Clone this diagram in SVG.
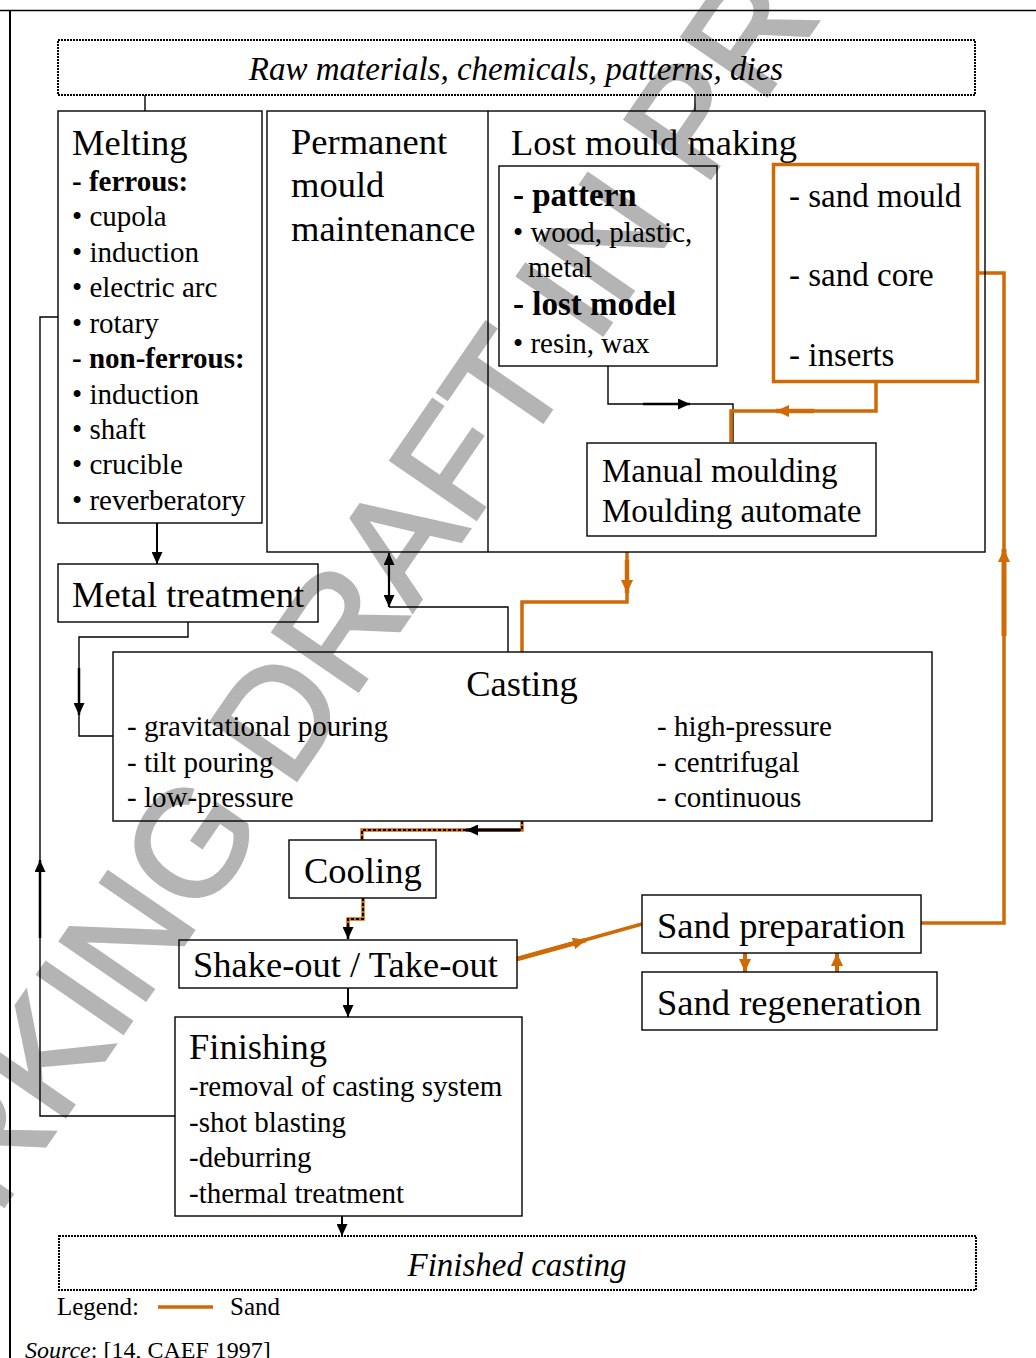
<svg xmlns="http://www.w3.org/2000/svg" width="1036" height="1358" viewBox="0 0 1036 1358">
  <style>
    .box { fill: none; stroke: #000; stroke-width: 1.4; }
    .dot { fill: none; stroke: #000; stroke-width: 2; stroke-dasharray: 2 1; }
    .sand { fill: none; stroke: #cf6a06; stroke-width: 3.5; }
    .ln { fill: none; stroke: #000; stroke-width: 1.4; }
    .t { font-family: "Liberation Serif", "Times New Roman", serif; fill: #000; }
    .h { font-size: 36.5px; }
    .m { font-size: 33px; }
    .s { font-size: 29px; }
    .b { font-weight: bold; }
    .i { font-style: italic; }
    .wm { font-family: "Liberation Sans", Arial, sans-serif; font-size: 150px; fill: #b4b4b4; stroke: #b4b4b4; stroke-width: 3.5; }
  </style>
  <defs>
    <marker id="ah" markerUnits="userSpaceOnUse" markerWidth="12" markerHeight="11" refX="12" refY="5.5" orient="auto">
      <path d="M0,0 L12,5.5 L0,11 z" fill="#000"/>
    </marker>
    <marker id="ahs" markerUnits="userSpaceOnUse" markerWidth="12" markerHeight="11" refX="0" refY="5.5" orient="auto">
      <path d="M12,0 L0,5.5 L12,11 z" fill="#000"/>
    </marker>
    <marker id="oh" markerUnits="userSpaceOnUse" markerWidth="13" markerHeight="12" refX="13" refY="6" orient="auto">
      <path d="M0,0 L13,6 L0,12 z" fill="#cf6a06"/>
    </marker>
  </defs>

  <rect width="1036" height="1358" fill="#fff"/>

  <!-- watermark -->
  <text class="wm" text-anchor="middle" transform="translate(518,458) rotate(-55.5)">WORKING DRAFT IN PROGRESS</text>

  <!-- page frame -->
  <g id="frame">
    <line x1="0" y1="10.5" x2="1036" y2="10.5" stroke="#000" stroke-width="1.5"/>
    <line x1="10" y1="10" x2="10" y2="1358" stroke="#000" stroke-width="2"/>
  </g>

  <g id="connectors">
    <line class="ln" x1="145" y1="95" x2="145" y2="111"/>
    <line class="ln" x1="695" y1="95" x2="695" y2="111"/>

    <!-- pattern to moulding -->
    <polyline class="ln" points="608,366 608,404 733,404 733,442"/>
    <line x1="643" y1="404" x2="690" y2="404" stroke="#000" stroke-width="2.5" marker-end="url(#ah)"/>

    <!-- sand mould/core to moulding -->
    <polyline class="sand" stroke-width="4" points="876,382 876,411 731,411 731,442"/>
    <line x1="814" y1="411" x2="776" y2="411" stroke="#cf6a06" stroke-width="4.5" marker-end="url(#oh)"/>

    <!-- sand preparation back to mould making -->
    <polyline class="sand" points="978,273 1004,273 1004,923 921,923"/>
    <line x1="1004" y1="636" x2="1004" y2="549" stroke="#cf6a06" stroke-width="5" marker-end="url(#oh)"/>

    <!-- melting to metal treatment -->
    <line x1="157" y1="523" x2="157" y2="564" stroke="#000" stroke-width="2" marker-end="url(#ah)"/>

    <!-- metal treatment to casting -->
    <polyline class="ln" points="188,622 188,637 79,637 79,736 113,736"/>
    <line x1="79" y1="668" x2="79" y2="715" stroke="#000" stroke-width="2.5" marker-end="url(#ah)"/>

    <!-- permanent mould to casting (two-way) -->
    <line x1="389" y1="553" x2="389" y2="607" stroke="#000" stroke-width="2.2" marker-start="url(#ahs)" marker-end="url(#ah)"/>
    <polyline class="ln" points="389,607 508,607 508,652"/>

    <!-- moulds to casting -->
    <polyline class="sand" stroke-width="4" points="627,552 627,602 522,602 522,652"/>
    <line x1="627" y1="560" x2="627" y2="593" stroke="#cf6a06" stroke-width="4.5" marker-end="url(#oh)"/>

    <!-- casting to cooling -->
    <polyline class="sand" stroke-width="4" points="522,821 522,830 362,830 362,840"/>
    <polyline fill="none" stroke="#000" stroke-width="2" stroke-dasharray="3 2" points="522,821 522,830 362,830 362,840"/>
    <line x1="520" y1="830" x2="466" y2="830" stroke="#000" stroke-width="3" marker-end="url(#ah)"/>

    <!-- cooling to shake-out -->
    <polyline class="sand" stroke-width="4" points="363,898 363,919 348,919 348,928"/>
    <polyline fill="none" stroke="#000" stroke-width="2" stroke-dasharray="3 2" points="363,898 363,919 348,919 348,928"/>
    <line x1="348" y1="925" x2="348" y2="939" stroke="#000" stroke-width="2.5" marker-end="url(#ah)"/>

    <!-- shake-out to sand preparation -->
    <line class="sand" x1="517" y1="959" x2="642" y2="924"/>
    <line x1="517" y1="959" x2="586" y2="940" stroke="#cf6a06" stroke-width="4.5" marker-end="url(#oh)"/>

    <!-- sand preparation / regeneration -->
    <line x1="745" y1="953" x2="745" y2="972" stroke="#cf6a06" stroke-width="4" marker-end="url(#oh)"/>
    <line x1="837" y1="972" x2="837" y2="953" stroke="#cf6a06" stroke-width="4" marker-end="url(#oh)"/>

    <!-- shake-out to finishing -->
    <line x1="348" y1="988" x2="348" y2="1017" stroke="#000" stroke-width="2" marker-end="url(#ah)"/>

    <!-- returns to melting -->
    <polyline class="ln" points="175,1116 40,1116 40,317 58,317"/>
    <line x1="40" y1="938" x2="40" y2="860" stroke="#000" stroke-width="2.5" marker-end="url(#ah)"/>

    <!-- finishing to finished casting -->
    <line x1="342" y1="1216" x2="342" y2="1236" stroke="#000" stroke-width="2" marker-end="url(#ah)"/>
  </g>

  <g id="raw-materials">
    <rect class="dot" x="58" y="40" width="917" height="55"/>
    <text class="t m i" x="516" y="80" text-anchor="middle">Raw materials, chemicals, patterns, dies</text>
  </g>

  <g id="melting">
    <rect class="box" x="58" y="111" width="204" height="412"/>
    <text class="t h" x="72" y="155">Melting</text>
    <g class="t s">
      <text x="72" y="191" class="b">- ferrous:</text>
      <text x="72" y="226">• cupola</text>
      <text x="72" y="262">• induction</text>
      <text x="72" y="297">• electric arc</text>
      <text x="72" y="333">• rotary</text>
      <text x="72" y="368" class="b">- non-ferrous:</text>
      <text x="72" y="404">• induction</text>
      <text x="72" y="439">• shaft</text>
      <text x="72" y="474">• crucible</text>
      <text x="72" y="510">• reverberatory</text>
    </g>
  </g>

  <g id="moulds">
    <rect class="box" x="267" y="111" width="718" height="441"/>
    <line class="ln" x1="488" y1="111" x2="488" y2="552"/>
  </g>

  <g id="permanent-mould">
    <text class="t h" x="291" y="154">Permanent</text>
    <text class="t h" x="291" y="197">mould</text>
    <text class="t h" x="291" y="241">maintenance</text>
  </g>

  <g id="lost-mould">
    <text class="t h" x="511" y="155">Lost mould making</text>
  </g>

  <g id="pattern">
    <rect class="box" x="499" y="166" width="218" height="200"/>
    <text class="t m b" x="513" y="206">- pattern</text>
    <text class="t s" x="513" y="242">• wood, plastic,</text>
    <text class="t s" x="528" y="277">metal</text>
    <text class="t m b" x="513" y="315">- lost model</text>
    <text class="t s" x="513" y="353">• resin, wax</text>
  </g>

  <g id="sand-moulds">
    <rect class="sand" x="773.5" y="164.5" width="204" height="217" stroke-width="3.5"/>
    <text class="t m" x="789" y="207">- sand mould</text>
    <text class="t m" x="789" y="286">- sand core</text>
    <text class="t m" x="789" y="366">- inserts</text>
  </g>

  <g id="moulding">
    <rect class="box" x="587" y="443" width="289" height="93"/>
    <text class="t m" x="602" y="482">Manual moulding</text>
    <text class="t m" x="602" y="522">Moulding automate</text>
  </g>

  <g id="metal-treatment">
    <rect class="box" x="58" y="564" width="260" height="58"/>
    <text class="t h" x="72" y="607">Metal treatment</text>
  </g>

  <g id="casting">
    <rect class="box" x="113" y="652" width="819" height="169"/>
    <text class="t h" x="522" y="696" text-anchor="middle">Casting</text>
    <g class="t s">
      <text x="127" y="736">- gravitational pouring</text>
      <text x="127" y="772">- tilt pouring</text>
      <text x="127" y="807">- low-pressure</text>
      <text x="657" y="736">- high-pressure</text>
      <text x="657" y="772">- centrifugal</text>
      <text x="657" y="807">- continuous</text>
    </g>
  </g>

  <g id="cooling">
    <rect class="box" x="289" y="840" width="147" height="58"/>
    <text class="t h" x="304" y="883">Cooling</text>
  </g>

  <g id="shake-out">
    <rect class="box" x="179" y="940" width="338" height="48"/>
    <text class="t h" x="193" y="977">Shake-out / Take-out</text>
  </g>

  <g id="sand-preparation">
    <rect class="box" x="642" y="895" width="279" height="58"/>
    <text class="t h" x="657" y="938">Sand preparation</text>
  </g>

  <g id="sand-regeneration">
    <rect class="box" x="642" y="972" width="295" height="58"/>
    <text class="t h" x="657" y="1015">Sand regeneration</text>
  </g>

  <g id="finishing">
    <rect class="box" x="175" y="1017" width="347" height="199"/>
    <text class="t h" x="189" y="1059">Finishing</text>
    <g class="t s">
      <text x="189" y="1096">-removal of casting system</text>
      <text x="189" y="1132">-shot blasting</text>
      <text x="189" y="1167">-deburring</text>
      <text x="189" y="1203">-thermal treatment</text>
    </g>
  </g>

  <g id="finished-casting">
    <rect class="dot" x="59" y="1236" width="917" height="54"/>
    <text class="t m i" x="517" y="1276" text-anchor="middle">Finished casting</text>
  </g>

  <g id="legend">
    <text class="t" font-size="25" x="57" y="1315">Legend:</text>
    <line x1="158" y1="1307" x2="213" y2="1307" stroke="#cf6a06" stroke-width="3.5"/>
    <text class="t" font-size="25" x="230" y="1315">Sand</text>
    <text class="t" font-size="24" x="25" y="1358"><tspan font-style="italic">Source</tspan>: [14, CAEF 1997]</text>
  </g>
</svg>
